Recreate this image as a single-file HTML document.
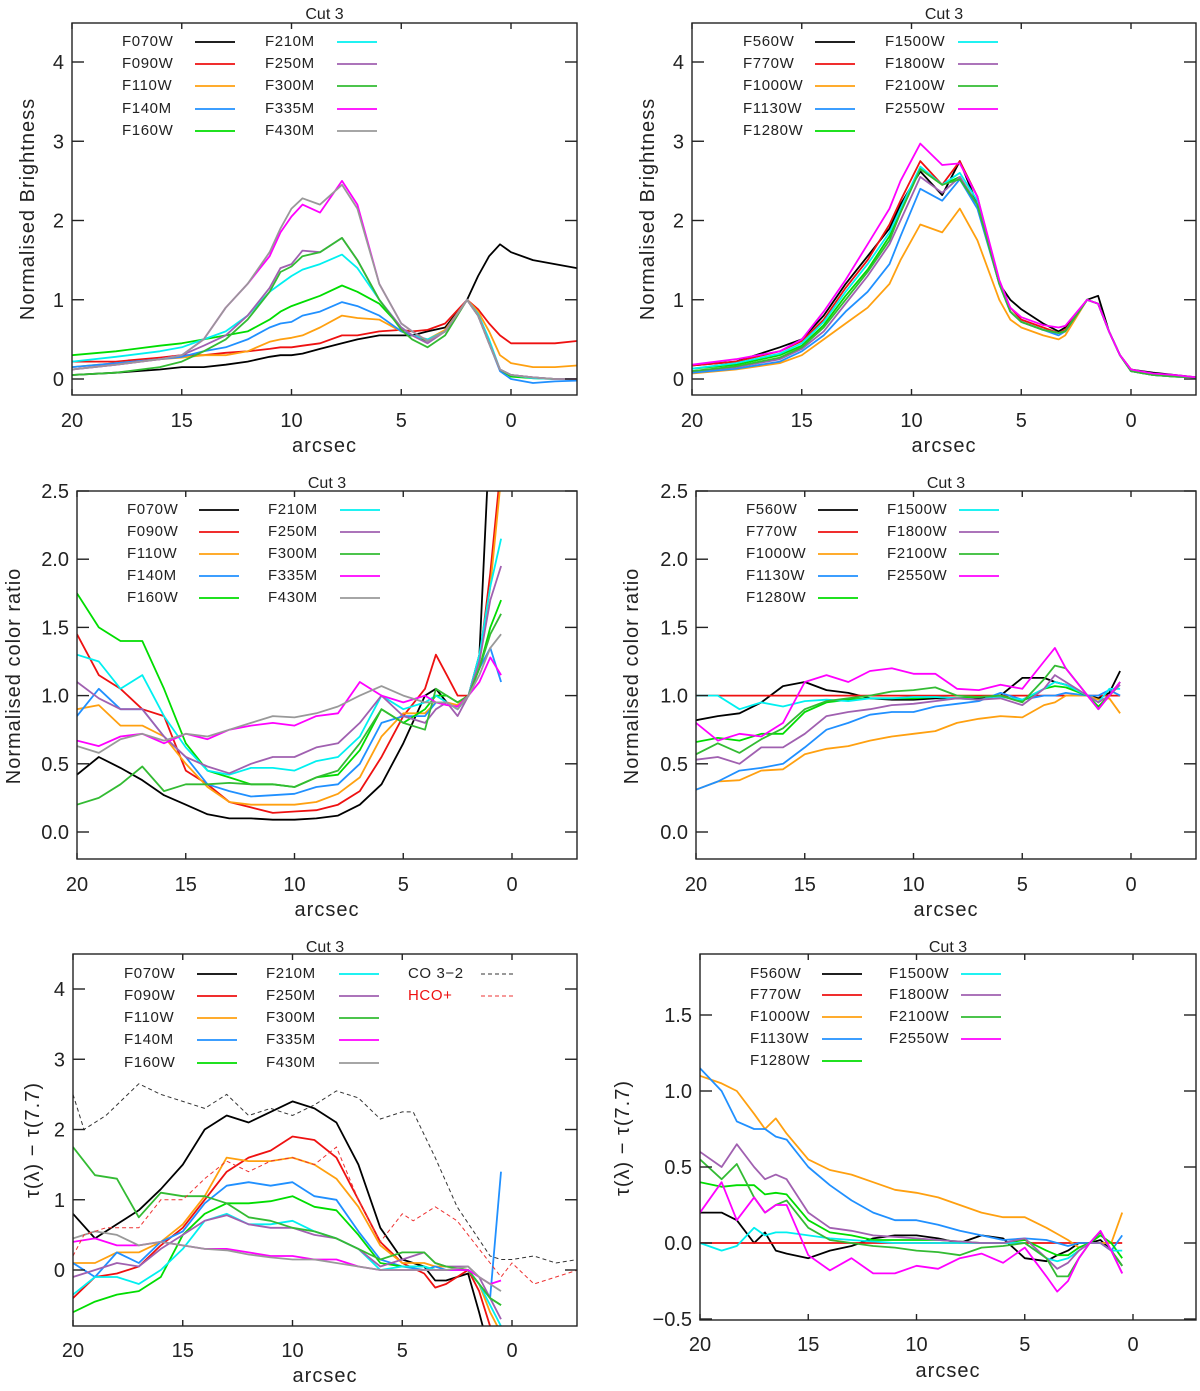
<!DOCTYPE html>
<html><head><meta charset="utf-8">
<style>
html,body{margin:0;padding:0;background:#fff;}
svg text{font-family:"Liberation Sans",sans-serif;fill:#222;}
</style></head>
<body>
<svg id="fig" xmlns="http://www.w3.org/2000/svg" width="1200" height="1386" viewBox="0 0 1200 1386"></svg>
<script>
// ---------- shared names and colours ----------
const nircamNames = ["F070W","F090W","F110W","F140M","F160W","F210M","F250M","F300M","F335M","F430M"];
const miriNames = ["F560W","F770W","F1000W","F1130W","F1280W","F1500W","F1800W","F2100W","F2550W"];
const nircamColors = ["#000000","#ee1111","#ffa010","#2090ff","#00dd00","#00f0f0","#a060b0","#33bb33","#ff00ff","#999999"];
const miriColors = ["#000000","#ee1111","#ffa010","#2090ff","#00dd00","#00f0f0","#a060b0","#33bb33","#ff00ff"];

// ---------- Panel 1: NIRCam brightness ----------
const p1X = [20,18,16,15,14,13,12,11,10.5,10,9.5,8.7,7.7,7,6,5,4.5,3.8,3,2,1.5,1,0.5,0,-1,-2,-3];
const p1F070W = [0.05,0.08,0.12,0.15,0.15,0.18,0.22,0.28,0.3,0.3,0.32,0.38,0.45,0.5,0.55,0.55,0.55,0.6,0.65,1.0,1.3,1.55,1.7,1.6,1.5,1.45,1.4];
const p1F090W = [0.22,0.22,0.27,0.3,0.3,0.33,0.35,0.38,0.4,0.4,0.42,0.45,0.55,0.55,0.6,0.62,0.6,0.62,0.7,1.0,0.88,0.7,0.55,0.45,0.45,0.45,0.48];
const p1F110W = [0.15,0.2,0.25,0.27,0.3,0.3,0.35,0.47,0.5,0.52,0.55,0.65,0.8,0.77,0.75,0.6,0.55,0.5,0.62,1.0,0.85,0.6,0.3,0.2,0.15,0.15,0.17];
const p1F140M = [0.15,0.2,0.25,0.28,0.35,0.4,0.5,0.65,0.7,0.72,0.8,0.85,0.97,0.92,0.8,0.6,0.55,0.48,0.6,1.0,0.8,0.45,0.1,0.0,-0.05,-0.03,-0.02];
const p1F160W = [0.3,0.35,0.42,0.45,0.5,0.55,0.6,0.75,0.85,0.92,0.97,1.05,1.18,1.1,0.95,0.65,0.55,0.48,0.6,1.0,0.8,0.45,0.12,0.03,0.01,0.0,0.0];
const p1F210M = [0.22,0.28,0.35,0.4,0.5,0.6,0.8,1.1,1.2,1.3,1.38,1.45,1.57,1.4,1.0,0.65,0.55,0.5,0.6,1.0,0.82,0.5,0.12,0.05,0.01,0.0,0.0];
const p1F250M = [0.12,0.18,0.25,0.3,0.42,0.55,0.8,1.15,1.4,1.45,1.62,1.6,1.78,1.5,1.0,0.65,0.55,0.45,0.6,1.0,0.8,0.45,0.12,0.05,0.02,0.0,0.0];
const p1F300M = [0.05,0.08,0.15,0.22,0.35,0.5,0.75,1.1,1.35,1.42,1.55,1.6,1.78,1.5,1.0,0.62,0.5,0.4,0.55,1.0,0.8,0.45,0.12,0.05,0.02,0.0,0.0];
const p1F335M = [0.12,0.18,0.25,0.3,0.5,0.9,1.2,1.55,1.85,2.05,2.2,2.1,2.5,2.2,1.2,0.7,0.6,0.48,0.6,1.0,0.8,0.45,0.12,0.05,0.02,0.0,0.0];
const p1F430M = [0.12,0.18,0.25,0.3,0.5,0.9,1.2,1.6,1.9,2.15,2.28,2.2,2.45,2.15,1.2,0.7,0.6,0.48,0.6,1.0,0.8,0.45,0.12,0.05,0.02,0.0,0.0];

// ---------- Panel 2: MIRI brightness ----------
const p2X = [20,18,16,15,14,13,12,11,10.5,9.6,8.6,7.8,7,6,5.5,5,4,3.3,3,2,1.5,1,0.5,0,-1,-2,-3];
const p2F560W = [0.17,0.22,0.4,0.5,0.8,1.2,1.55,1.9,2.2,2.62,2.32,2.75,2.2,1.2,1.0,0.88,0.7,0.6,0.65,1.0,1.05,0.6,0.3,0.12,0.08,0.05,0.02];
const p2F770W = [0.17,0.22,0.35,0.48,0.75,1.15,1.5,1.95,2.25,2.75,2.45,2.75,2.3,1.2,0.9,0.75,0.65,0.58,0.62,1.0,0.95,0.6,0.3,0.12,0.06,0.04,0.02];
const p2F1000W = [0.07,0.12,0.2,0.3,0.5,0.7,0.9,1.2,1.5,1.95,1.85,2.15,1.75,1.0,0.75,0.65,0.55,0.5,0.55,1.0,0.95,0.6,0.3,0.1,0.05,0.03,0.02];
const p2F1130W = [0.08,0.13,0.22,0.35,0.55,0.85,1.1,1.45,1.8,2.4,2.25,2.52,2.15,1.2,0.85,0.72,0.62,0.55,0.6,1.0,0.95,0.6,0.3,0.1,0.05,0.03,0.02];
const p2F1280W = [0.13,0.18,0.3,0.42,0.68,1.05,1.38,1.8,2.1,2.65,2.45,2.55,2.2,1.2,0.85,0.72,0.62,0.58,0.6,1.0,0.95,0.6,0.3,0.1,0.05,0.03,0.02];
const p2F1500W = [0.13,0.2,0.32,0.45,0.72,1.1,1.45,1.85,2.15,2.68,2.45,2.6,2.25,1.2,0.85,0.72,0.62,0.58,0.6,1.0,0.95,0.6,0.3,0.1,0.05,0.03,0.02];
const p2F1800W = [0.1,0.15,0.25,0.38,0.6,0.95,1.3,1.7,2.0,2.55,2.35,2.55,2.2,1.2,0.85,0.72,0.62,0.58,0.6,1.0,0.95,0.6,0.3,0.1,0.05,0.03,0.02];
const p2F2100W = [0.1,0.16,0.27,0.4,0.65,1.0,1.35,1.75,2.1,2.65,2.45,2.52,2.2,1.2,0.85,0.72,0.62,0.58,0.6,1.0,0.95,0.6,0.3,0.1,0.05,0.03,0.02];
const p2F2550W = [0.18,0.25,0.35,0.5,0.85,1.25,1.7,2.15,2.5,2.97,2.7,2.72,2.3,1.25,0.9,0.78,0.68,0.65,0.67,1.0,0.95,0.6,0.3,0.12,0.07,0.05,0.02];

// ---------- Panel 3: NIRCam colour ratio ----------
const p3X = [20,19,18,17,16,15,14,13,12,11,10,9,8,7,6,5,4,3.5,3,2.5,2,1.5,1,0.5];
const p3F070W = [0.42,0.55,0.47,0.38,0.27,0.2,0.13,0.1,0.1,0.09,0.09,0.1,0.12,0.2,0.35,0.65,1.0,1.05,0.95,0.9,1.0,1.3,3.0,4.0];
const p3F090W = [1.45,1.15,1.05,0.9,0.85,0.45,0.35,0.22,0.18,0.14,0.15,0.16,0.2,0.3,0.55,0.85,1.05,1.3,1.15,1.0,1.0,1.25,1.9,2.7];
const p3F110W = [0.9,0.93,0.78,0.78,0.7,0.5,0.33,0.22,0.2,0.2,0.2,0.22,0.28,0.4,0.7,0.87,0.87,0.95,0.95,0.93,1.0,1.25,1.8,2.6];
const p3F140M = [0.85,1.05,0.9,0.9,0.7,0.55,0.35,0.3,0.26,0.27,0.28,0.33,0.35,0.5,0.8,0.85,0.85,0.95,0.95,0.9,1.0,1.2,1.35,1.1];
const p3F160W = [1.75,1.5,1.4,1.4,1.05,0.65,0.45,0.4,0.35,0.35,0.33,0.4,0.42,0.6,0.9,0.8,0.9,1.0,1.0,0.95,1.0,1.2,1.5,1.7];
const p3F210M = [1.3,1.25,1.05,1.15,0.85,0.62,0.45,0.42,0.47,0.47,0.45,0.52,0.55,0.7,1.0,0.9,0.95,1.0,0.95,0.9,1.0,1.3,1.8,2.15];
const p3F250M = [1.1,0.98,0.9,0.9,0.7,0.55,0.48,0.43,0.5,0.55,0.55,0.62,0.65,0.8,1.0,0.85,0.8,0.9,0.95,0.85,1.0,1.25,1.7,1.95];
const p3F300M = [0.2,0.25,0.35,0.48,0.3,0.35,0.35,0.36,0.35,0.35,0.33,0.4,0.45,0.65,0.9,0.8,0.75,1.05,1.0,0.95,1.0,1.2,1.45,1.6];
const p3F335M = [0.67,0.63,0.7,0.72,0.65,0.72,0.68,0.75,0.78,0.8,0.78,0.85,0.87,1.1,1.0,0.95,1.0,0.95,0.93,0.92,1.0,1.1,1.28,1.15];
const p3F430M = [0.63,0.58,0.68,0.72,0.67,0.72,0.7,0.75,0.8,0.85,0.84,0.87,0.92,1.0,1.07,1.0,0.95,0.95,0.95,0.9,1.0,1.15,1.35,1.45];

// ---------- Panel 4: MIRI colour ratio ----------
const p4X = [20,19,18,17,16,15,14,13,12,11,10,9,8,7,6,5,4,3.5,3,2,1.5,1,0.5];
const p4F560W = [0.82,0.85,0.87,0.95,1.07,1.1,1.04,1.02,0.98,0.97,0.97,0.98,0.98,0.98,1.0,1.13,1.13,1.1,1.08,1.0,0.98,1.02,1.18];
const p4F770W = [1,1,1,1,1,1,1,1,1,1,1,1,1,1,1,1,1,1,1,1,1,1,1];
const p4F1000W = [0.31,0.37,0.38,0.45,0.46,0.57,0.61,0.63,0.67,0.7,0.72,0.74,0.8,0.83,0.85,0.84,0.93,0.95,1.0,1.0,0.97,0.98,0.87];
const p4F1130W = [0.31,0.37,0.45,0.47,0.5,0.62,0.75,0.8,0.86,0.88,0.88,0.92,0.94,0.96,1.02,0.97,1.0,1.0,1.02,1.0,1.0,1.04,1.0];
const p4F1280W = [0.66,0.69,0.67,0.72,0.72,0.88,0.95,0.97,0.98,0.98,0.98,0.99,0.98,0.99,1.0,0.96,1.05,1.07,1.06,1.0,0.92,1.0,1.1];
const p4F1500W = [1.0,1.0,0.9,0.95,0.92,0.96,0.97,0.96,0.98,0.98,0.99,0.99,0.98,0.97,0.99,0.97,1.05,1.1,1.08,1.0,0.95,1.05,1.05];
const p4F1800W = [0.53,0.55,0.5,0.62,0.62,0.72,0.85,0.88,0.9,0.93,0.94,0.96,0.98,0.97,0.98,0.93,1.05,1.15,1.1,1.0,0.95,1.0,1.08];
const p4F2100W = [0.57,0.65,0.58,0.68,0.76,0.9,0.96,0.98,1.0,1.03,1.04,1.06,1.0,0.99,1.0,0.95,1.12,1.22,1.2,1.0,0.9,1.0,1.1];
const p4F2550W = [0.8,0.67,0.72,0.7,0.8,1.1,1.15,1.1,1.18,1.2,1.16,1.16,1.05,1.04,1.08,1.05,1.25,1.35,1.2,1.0,0.9,1.0,1.1];

// ---------- Panel 5: NIRCam tau difference ----------
const p5X = [20,19,18,17,16,15,14,13,12,11,10,9,8,7,6,5,4,3.5,3,2,1.5,1,0.5];
const p5F070W = [0.8,0.45,0.65,0.85,1.15,1.5,2.0,2.2,2.1,2.25,2.4,2.3,2.1,1.5,0.6,0.15,0.05,-0.15,-0.15,-0.05,-0.6,-1.2,-1.5];
const p5F090W = [-0.4,-0.1,-0.05,0.05,0.35,0.6,1.0,1.4,1.6,1.7,1.9,1.85,1.6,1.0,0.4,0.1,-0.05,-0.25,-0.2,0.0,-0.3,-0.8,-1.0];
const p5F110W = [0.1,0.1,0.25,0.25,0.4,0.65,1.05,1.6,1.55,1.55,1.6,1.5,1.3,0.9,0.35,0.1,0.1,0.05,0.05,0.0,-0.2,-0.6,-0.9];
const p5F140M = [0.1,-0.1,0.25,0.1,0.4,0.55,0.95,1.2,1.25,1.2,1.25,1.05,1.0,0.55,0.15,0.05,0.0,0.05,0.0,0.0,-0.2,-0.4,1.4];
const p5F160W = [-0.6,-0.45,-0.35,-0.3,-0.1,0.5,0.8,0.95,0.95,0.98,1.05,0.9,0.85,0.5,0.1,0.05,0.05,0.0,0.0,0.0,-0.2,-0.4,-0.5];
const p5F210M = [-0.35,-0.1,-0.1,-0.2,0.0,0.3,0.7,0.8,0.65,0.65,0.7,0.55,0.45,0.3,0.0,0.05,0.05,0.0,0.0,0.0,-0.2,-0.5,-0.8];
const p5F250M = [-0.1,0.0,0.1,0.05,0.3,0.5,0.7,0.78,0.65,0.6,0.6,0.5,0.45,0.3,0.05,0.15,0.25,0.1,0.05,0.05,-0.1,-0.4,-0.7];
const p5F300M = [1.75,1.35,1.3,0.75,1.1,1.05,1.05,0.95,0.75,0.7,0.6,0.55,0.45,0.3,0.15,0.25,0.25,0.1,0.05,0.0,-0.2,-0.4,-0.5];
const p5F335M = [0.4,0.45,0.35,0.35,0.4,0.35,0.3,0.3,0.25,0.2,0.2,0.15,0.15,0.05,0.0,0.0,0.0,0.0,0.0,0.0,-0.1,-0.2,-0.15];
const p5F430M = [0.45,0.55,0.5,0.35,0.4,0.35,0.3,0.28,0.22,0.18,0.15,0.15,0.1,0.05,0.0,0.0,0.0,0.0,0.0,0.05,-0.1,-0.2,-0.3];
const p5DashX = [20,19.5,18.5,17,16,15,14,13,12,11,10,9,8,7,6,5,4.5,3.5,2.5,1,0.5,0,-1,-2,-3];
const p5CO32 = [2.5,2.0,2.2,2.65,2.5,2.4,2.3,2.5,2.2,2.3,2.2,2.35,2.55,2.45,2.15,2.25,2.25,1.6,0.9,0.2,0.15,0.15,0.2,0.1,0.15];
const p5HCO = [0.2,0.5,0.6,0.6,1.0,1.0,1.3,1.55,1.4,1.55,1.6,1.5,1.75,1.0,0.4,0.8,0.7,0.9,0.7,0.1,-0.1,0.1,-0.2,-0.1,0.0];

// ---------- Panel 6: MIRI tau difference ----------
const p6X = [20,19,18.3,17.5,17,16.5,16,15,14,13,12,11,10,9,8,7,6,5,4,3.5,3,2.5,2,1.5,1,0.5];
const p6F560W = [0.2,0.2,0.15,0.0,0.07,-0.05,-0.07,-0.1,-0.05,-0.02,0.03,0.05,0.05,0.03,0.0,0.05,0.03,-0.1,-0.12,-0.08,-0.05,0.0,0.0,0.02,-0.05,-0.15];
const p6F770W = [0,0,0,0,0,0,0,0,0,0,0,0,0,0,0,0,0,0,0,0,0,0,0,0,0,0];
const p6F1000W = [1.1,1.05,1.0,0.85,0.75,0.82,0.72,0.55,0.48,0.45,0.4,0.35,0.33,0.3,0.25,0.2,0.17,0.17,0.1,0.06,0.02,-0.03,0.0,0.0,0.0,0.2];
const p6F1130W = [1.15,1.0,0.8,0.75,0.75,0.7,0.68,0.5,0.38,0.28,0.2,0.15,0.15,0.12,0.08,0.05,0.02,0.03,0.02,0.0,-0.02,0.0,0.0,0.0,-0.05,0.05];
const p6F1280W = [0.4,0.37,0.38,0.38,0.32,0.33,0.32,0.15,0.07,0.05,0.02,0.02,0.02,0.02,0.01,0.0,0.0,0.02,-0.05,-0.08,-0.08,-0.03,0.0,0.05,0.0,-0.1];
const p6F1500W = [0.0,-0.05,-0.02,0.1,0.05,0.07,0.07,0.05,0.03,0.02,0.01,0.0,0.0,0.0,0.0,0.0,0.0,0.0,-0.1,-0.12,-0.1,-0.05,0.0,0.0,-0.05,-0.05];
const p6F1800W = [0.6,0.5,0.65,0.5,0.42,0.45,0.42,0.2,0.1,0.08,0.05,0.04,0.03,0.02,0.01,0.0,0.0,0.03,-0.1,-0.17,-0.13,-0.05,0.0,0.0,-0.05,-0.2];
const p6F2100W = [0.55,0.42,0.52,0.3,0.2,0.25,0.28,0.1,0.02,0.0,-0.02,-0.03,-0.05,-0.06,-0.08,-0.03,-0.02,0.0,-0.1,-0.22,-0.22,-0.1,0.0,0.07,-0.05,-0.15];
const p6F2550W = [0.2,0.4,0.15,0.3,0.2,0.25,0.25,-0.08,-0.18,-0.1,-0.2,-0.2,-0.15,-0.17,-0.1,-0.07,-0.13,-0.03,-0.22,-0.32,-0.25,-0.1,0.0,0.08,-0.05,-0.2];

// ---------- tick labels ----------
const xTicks = [20,15,10,5,0];
const brightTicks = [0,1,2,3,4];
const ratioTicks = [0,0.5,1,1.5,2,2.5];
const ratioTickLabels = ["0.0","0.5","1.0","1.5","2.0","2.5"];
const tauTicks = [0,1,2,3,4];
const miriTauTicks = [-0.5,0,0.5,1,1.5];
const miriTauTickLabels = ["\u22120.5","0.0","0.5","1.0","1.5"];

// ---------- drawing ----------
const NS = "http://www.w3.org/2000/svg";
const svg = document.getElementById("fig");
function mk(tag, attrs, parent){
  const e = document.createElementNS(NS, tag);
  for (const k in attrs) e.setAttribute(k, attrs[k]);
  (parent||svg).appendChild(e);
  return e;
}
function lin(a, pa, b, pb){ return v => pa + (v - a) * (pb - pa) / (b - a); }

const panels = [
  {id:"p1", L:72,T:23,R:577,B:395, xs:lin(20,72,0,511), ys:lin(0,379,4,62), yt:brightTicks, ytl:null, title:"Normalised  Brightness", tx:27, ty:209, titleY:14, xlY:427, axY:452,
   X:p1X, series:[p1F070W,p1F090W,p1F110W,p1F140M,p1F160W,p1F210M,p1F250M,p1F300M,p1F335M,p1F430M], names:nircamNames, colors:nircamColors,
   leg:{rows:[40,62,84,107,129], c1t:122,c1l:195,c2t:265,c2l:337}},
  {id:"p2", L:692,T:23,R:1196,B:395, xs:lin(20,692,0,1131), ys:lin(0,379,4,62), yt:brightTicks, ytl:null, title:"Normalised  Brightness", tx:647, ty:209, titleY:14, xlY:427, axY:452,
   X:p2X, series:[p2F560W,p2F770W,p2F1000W,p2F1130W,p2F1280W,p2F1500W,p2F1800W,p2F2100W,p2F2550W], names:miriNames, colors:miriColors,
   leg:{rows:[40,62,84,107,129], c1t:743,c1l:815,c2t:885,c2l:958}},
  {id:"p3", L:77,T:491,R:577,B:859, xs:lin(20,77,0,512), ys:lin(0,832,2.5,491), yt:ratioTicks, ytl:ratioTickLabels, title:"Normalised  color  ratio", tx:13, ty:676, titleY:483, xlY:891, axY:916,
   X:p3X, series:[p3F070W,p3F090W,p3F110W,p3F140M,p3F160W,p3F210M,p3F250M,p3F300M,p3F335M,p3F430M], names:nircamNames, colors:nircamColors,
   leg:{rows:[508,530,552,574,596], c1t:127,c1l:199,c2t:268,c2l:340}},
  {id:"p4", L:696,T:491,R:1196,B:859, xs:lin(20,696,0,1131), ys:lin(0,832,2.5,491), yt:ratioTicks, ytl:ratioTickLabels, title:"Normalised  color  ratio", tx:631, ty:676, titleY:483, xlY:891, axY:916,
   X:p4X, series:[p4F560W,p4F770W,p4F1000W,p4F1130W,p4F1280W,p4F1500W,p4F1800W,p4F2100W,p4F2550W], names:miriNames, colors:miriColors,
   leg:{rows:[508,530,552,574,596], c1t:746,c1l:818,c2t:887,c2l:959}},
  {id:"p5", L:73,T:954,R:577,B:1326, xs:lin(20,73,0,512), ys:lin(0,1270,4,989), yt:tauTicks, ytl:null, title:"\u03c4(\u03bb)  \u2212  \u03c4(7.7)", tx:32, ty:1140, titleY:947, xlY:1357, axY:1382,
   X:p5X, series:[p5F070W,p5F090W,p5F110W,p5F140M,p5F160W,p5F210M,p5F250M,p5F300M,p5F335M,p5F430M], names:nircamNames, colors:nircamColors,
   leg:{rows:[972,994,1016,1038,1061], c1t:124,c1l:197,c2t:266,c2l:339}},
  {id:"p6", L:700,T:954,R:1196,B:1320, xs:lin(20,700,0,1133), ys:lin(0,1243,1.5,1015), yt:miriTauTicks, ytl:miriTauTickLabels, title:"\u03c4(\u03bb)  \u2212  \u03c4(7.7)", tx:622, ty:1138, titleY:947, xlY:1351, axY:1377,
   X:p6X, series:[p6F560W,p6F770W,p6F1000W,p6F1130W,p6F1280W,p6F1500W,p6F1800W,p6F2100W,p6F2550W], names:miriNames, colors:miriColors,
   leg:{rows:[972,993,1015,1037,1059], c1t:750,c1l:822,c2t:889,c2l:961}}
];

function pathFor(p, X, Y){
  let d = "";
  const n = Math.min(X.length, Y.length);
  for (let i = 0; i < n; i++){
    d += (i ? "L" : "M") + p.xs(X[i]).toFixed(1) + "," + p.ys(Y[i]).toFixed(1);
  }
  return d;
}

const defs = mk("defs", {});
panels.forEach(p => {
  const g = mk("g", {});
  
  
  const cp = mk("clipPath", {id:"clip-"+p.id}, defs);
  mk("rect", {x:p.L, y:p.T, width:p.R-p.L, height:p.B-p.T}, cp);

  // title
  const t = mk("text", {x:(p.L+p.R)/2, y:p.titleY+5, "font-size":16, "text-anchor":"middle"}, g);
  t.textContent = "Cut  3";
  
  

  // series
  const sg = mk("g", {"clip-path":"url(#clip-"+p.id+")"}, g);
  p.series.forEach((s, i) => {
    const path = mk("path", {d:pathFor(p, p.X, s), fill:"none", stroke:p.colors[i], "stroke-width":1.8, "stroke-linejoin":"round"}, sg);
    
    
  });
  if (p.id === "p5"){
    const co = mk("path", {d:pathFor(p, p5DashX, p5CO32), fill:"none", stroke:"#333", "stroke-width":1, "stroke-dasharray":"4,3"}, sg);
    
    
    const hc = mk("path", {d:pathFor(p, p5DashX, p5HCO), fill:"none", stroke:"#ee3333", "stroke-width":1, "stroke-dasharray":"4,3"}, sg);
    
    
  }

  // frame
  const fr = mk("rect", {x:p.L, y:p.T, width:p.R-p.L, height:p.B-p.T, fill:"none", stroke:"#222", "stroke-width":1.4}, g);
  
  

  // x ticks
  xTicks.forEach(v => {
    const x = p.xs(v);
    mk("line", {x1:x, y1:p.B, x2:x, y2:p.B-6, stroke:"#222", "stroke-width":1.4}, g);
    mk("line", {x1:x, y1:p.T, x2:x, y2:p.T+6, stroke:"#222", "stroke-width":1.4}, g);
    const tl = mk("text", {x:x, y:p.xlY, "font-size":20, "text-anchor":"middle"}, g);
    tl.textContent = String(v);
    
    
  });
  const xt = mk("text", {x:(p.L+p.R)/2, y:p.axY, "font-size":20, "text-anchor":"middle", "letter-spacing":1}, g);
  xt.textContent = "arcsec";
  
  

  // y ticks
  p.yt.forEach((v, i) => {
    const y = p.ys(v);
    mk("line", {x1:p.L, y1:y, x2:p.L+12, y2:y, stroke:"#222", "stroke-width":1.4}, g);
    mk("line", {x1:p.R, y1:y, x2:p.R-12, y2:y, stroke:"#222", "stroke-width":1.4}, g);
    const tl = mk("text", {x:p.L-8, y:y+7, "font-size":20, "text-anchor":"end"}, g);
    tl.textContent = p.ytl ? p.ytl[i] : String(v);
    
    
  });
  const yt = mk("text", {x:0, y:0, "font-size":20, "text-anchor":"middle", "letter-spacing":1, transform:"translate("+(p.tx+7)+","+p.ty+") rotate(-90)"}, g);
  yt.textContent = p.title;
  
  

  // legend
  p.names.forEach((nm, i) => {
    const col = i < 5 ? 0 : 1;
    const row = i % 5;
    const y = p.leg.rows[row];
    const tx = col ? p.leg.c2t : p.leg.c1t;
    const lx = col ? p.leg.c2l : p.leg.c1l;
    const lg = mk("g", {}, g);
    
    
    const te = mk("text", {x:tx, y:y+6, "font-size":15, "letter-spacing":0.6}, lg);
    te.textContent = nm;
    mk("line", {x1:lx, y1:y+2, x2:lx+40, y2:y+2, stroke:p.colors[i], "stroke-width":1.8}, lg);
  });
  if (p.id === "p5"){
    const l1 = mk("g", {}, g);
    
    
    const a = mk("text", {x:408, y:p.leg.rows[0]+6, "font-size":15, "letter-spacing":0.6}, l1);
    a.textContent = "CO 3\u22122";
    mk("line", {x1:481, y1:p.leg.rows[0]+2, x2:516, y2:p.leg.rows[0]+2, stroke:"#333", "stroke-width":1, "stroke-dasharray":"4,3"}, l1);
    const l2 = mk("g", {}, g);
    
    
    const b = mk("text", {x:408, y:p.leg.rows[1]+6, "font-size":15, "letter-spacing":0.6, fill:"#ee1111", style:"fill:#ee1111"}, l2);
    b.textContent = "HCO+";
    mk("line", {x1:481, y1:p.leg.rows[1]+2, x2:516, y2:p.leg.rows[1]+2, stroke:"#ee3333", "stroke-width":1, "stroke-dasharray":"4,3"}, l2);
  }
});
</script>
</body></html>
